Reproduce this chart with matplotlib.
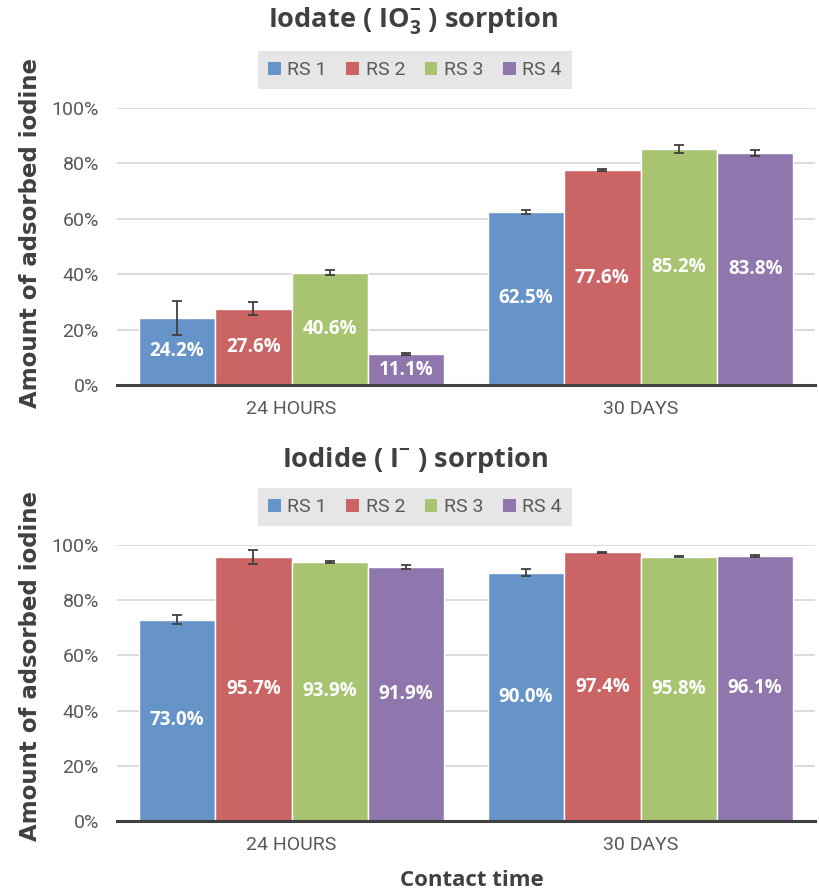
import matplotlib
matplotlib.use("Agg")
import matplotlib.pyplot as plt
from matplotlib.patches import Patch
import numpy as np

categories = ["24 HOURS", "30 DAYS"]
series = ["RS 1", "RS 2", "RS 3", "RS 4"]
colors = ["#6694C8", "#CB6565", "#A8C471", "#8F77AE"]

iodate_vals = {"RS 1": [24.2, 62.5], "RS 2": [27.6, 77.6], "RS 3": [40.6, 85.2], "RS 4": [11.1, 83.8]}
iodate_err = {"RS 1": [6.3, 0.8], "RS 2": [2.3, 0.5], "RS 3": [1.0, 1.5], "RS 4": [0.3, 1.1]}
iodide_vals = {"RS 1": [73.0, 90.0], "RS 2": [95.7, 97.4], "RS 3": [93.9, 95.8], "RS 4": [91.9, 96.1]}
iodide_err = {"RS 1": [1.8, 1.2], "RS 2": [2.6, 0.15], "RS 3": [0.25, 0.3], "RS 4": [0.7, 0.3]}
yticks = [0, 20, 40, 60, 80, 100]

W, H = 819, 891
fig = plt.figure(figsize=(W / 100, H / 100), dpi=100)

narrow = ["Liberation Sans Narrow", "Roboto", "DejaVu Sans"]
tick_col = "#595959"

def px_axes(l, t, r, b):
    return fig.add_axes([l / W, 1 - b / H, (r - l) / W, (b - t) / H])

def draw(ax, vals, errs):
    x = np.arange(len(categories))
    w = 0.219
    for i, s in enumerate(series):
        pos = x + (i - 1.5) * w
        ax.bar(pos, vals[s], width=w, color=colors[i], edgecolor="white", linewidth=1.0, zorder=3)
        ax.errorbar(pos, vals[s], yerr=errs[s], fmt="none", ecolor="#404040", elinewidth=1.3,
                    capsize=3.5, capthick=1.3, zorder=4)
        for p, v in zip(pos, vals[s]):
            ax.text(p, v / 2, f"{v:.1f}%", ha="center", va="center", color="white",
                    fontsize=13.5, fontweight="bold", family=["Open Sans", "DejaVu Sans"], zorder=5)
    ax.set_xlim(-0.5, 1.5)
    ax.set_ylim(0, 100)
    ax.set_yticks(yticks)
    ax.set_yticklabels([f"{t}%" for t in yticks], family=narrow, fontsize=14, color=tick_col)
    ax.set_xticks(x)
    ax.set_xticklabels(categories, family=narrow, fontsize=14, color=tick_col)
    ax.tick_params(axis="both", length=0)
    ax.tick_params(axis="y", pad=13)
    ax.tick_params(axis="x", pad=11)
    ax.grid(axis="y", color="#D9D9D9", linewidth=1.3, zorder=0)
    ax.set_axisbelow(True)
    for sp in ["top", "right", "left"]:
        ax.spines[sp].set_visible(False)
    ax.spines["bottom"].set_color("#404040")
    ax.spines["bottom"].set_linewidth(2.2)
    ax.spines["bottom"].set_zorder(6)
    ax.set_ylabel("Amount of adsorbed iodine", fontsize=16.5, fontweight="bold", color="#404040",
                  family="DejaVu Sans")

ax1 = px_axes(117, 108, 815, 385)
draw(ax1, iodate_vals, iodate_err)
ax1.yaxis.set_label_coords(-0.108, 0.55)
ax2 = px_axes(117, 545, 815, 821)
draw(ax2, iodide_vals, iodide_err)
ax2.yaxis.set_label_coords(-0.108, 0.56)

fig.text(413 / W, 1 - 21 / H, r"Iodate ( IO$_\mathregular{3}^{\mathregular{-}}$ ) sorption", ha="center", va="center",
         fontsize=19.5, fontweight="bold", color="#404040", family="Open Sans")
fig.text(415 / W, 1 - 460 / H, r"Iodide ( I$^{\mathregular{-}}$ ) sorption", ha="center", va="center",
         fontsize=19.5, fontweight="bold", color="#404040", family="Open Sans")
fig.text(472 / W, 1 - 880 / H, "Contact time", ha="center", va="center",
         fontsize=16, fontweight="bold", color="#404040", family="Open Sans")

handles = [Patch(facecolor=c, edgecolor="none") for c in colors]
for yc in [70, 507]:
    leg = fig.legend(handles, series, loc="center", bbox_to_anchor=(415 / W, 1 - yc / H), ncol=4,
                     frameon=True, fancybox=False, facecolor="#E6E6E6", edgecolor="none", framealpha=1,
                     handlelength=0.65, handleheight=0.65, handletextpad=0.35, columnspacing=1.0,
                     borderpad=0.5, prop={"family": narrow, "size": 14})
    for t in leg.get_texts():
        t.set_color(tick_col)
    fig.add_artist(leg)

fig.savefig("out.png", dpi=100)
